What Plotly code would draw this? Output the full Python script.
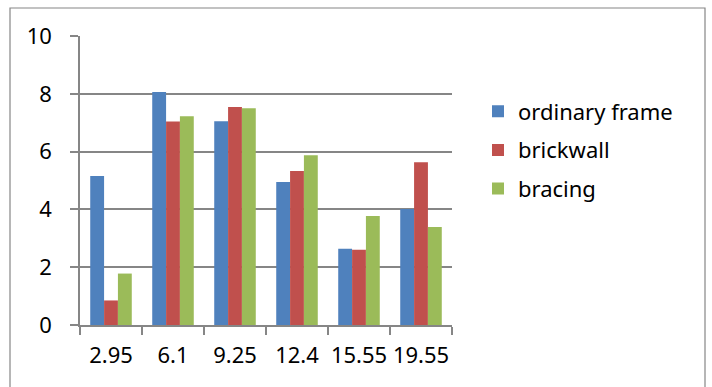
import plotly.graph_objects as go

# Category labels along the x axis
categories = ["2.95", "6.1", "9.25", "12.4", "15.55", "19.55"]

# Series values
ordinary_frame = [5.16, 8.06, 7.05, 4.95, 2.64, 4.01]
brickwall = [0.85, 7.04, 7.54, 5.33, 2.60, 5.63]
bracing = [1.78, 7.22, 7.50, 5.87, 3.77, 3.39]

series = [
    ("ordinary frame", ordinary_frame, "#4F81BD"),
    ("brickwall", brickwall, "#C0504D"),
    ("bracing", bracing, "#9BBB59"),
]

W, H = 712, 387
ML, MR, MT, MB = 80, 260, 36, 62
PW, PH = W - ML - MR, H - MT - MB

FONT = "Noto Sans"
FS = 22
GRID = "#868686"

fig = go.Figure()
for i, (name, vals, color) in enumerate(series):
    fig.add_trace(go.Bar(
        x=categories, y=vals, name=name,
        marker=dict(color=color, line=dict(width=0)),
        legendgroup=str(i),
    ))


def px_x(p):
    return (p - ML) / PW


def px_y(p):
    return (H - MB - p) / PH


fig.update_layout(
    width=W, height=H,
    margin=dict(l=ML, r=MR, t=MT, b=MB, autoexpand=False),
    paper_bgcolor="white", plot_bgcolor="white",
    barmode="group", bargap=0.33, bargroupgap=0,
    font=dict(family=FONT, size=FS, color="#000000"),
    showlegend=True,
    legend=dict(
        x=px_x(478), y=px_y(150), xanchor="left", yanchor="middle",
        font=dict(family=FONT, size=FS, color="#000000"),
        traceorder="grouped", tracegroupgap=7,
        bgcolor="rgba(0,0,0,0)",
    ),
    xaxis=dict(
        type="category",
        showline=True, linecolor=GRID, linewidth=1.5,
        ticks="outside", ticklen=8, tickcolor=GRID, tickwidth=1.5,
        tickson="boundaries",
        showgrid=False,
        tickangle=0, automargin=False,
        ticklabelstandoff=10,
        tickfont=dict(family=FONT, size=FS),
    ),
    yaxis=dict(
        range=[0, 10], dtick=2,
        showline=True, linecolor=GRID, linewidth=1.5,
        ticks="outside", ticklen=8, tickcolor=GRID, tickwidth=1.5,
        showgrid=True, gridcolor=GRID, gridwidth=1.5,
        zeroline=False, automargin=False,
        ticklabelstandoff=14,
        tickfont=dict(family=FONT, size=FS),
    ),
    shapes=[dict(
        type="rect", xref="paper", yref="paper",
        x0=px_x(10), x1=px_x(705), y0=px_y(392), y1=px_y(8),
        line=dict(color="#868686", width=1.2), fillcolor="rgba(0,0,0,0)",
        layer="below",
    )],
)

fig.write_html("out.html")
